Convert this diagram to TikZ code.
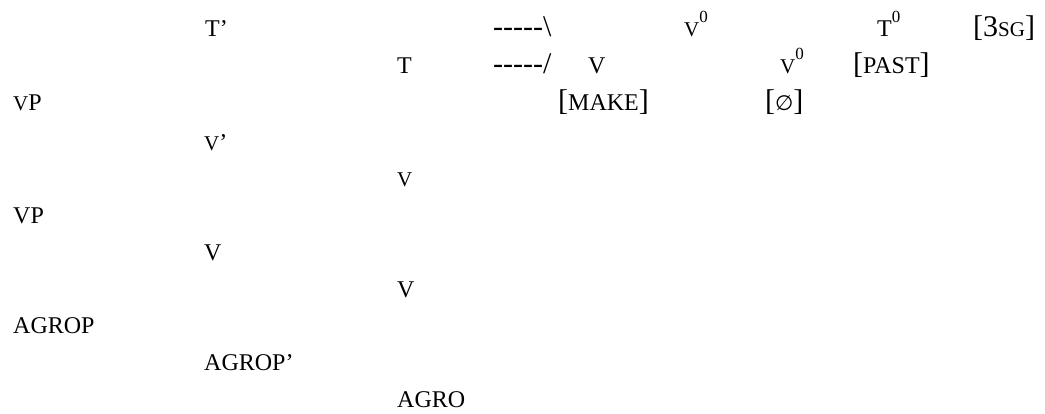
\documentclass[tikz,border=0pt]{standalone}
\usepackage{fontspec}
\setmainfont{Liberation Serif}
\newfontfamily\symfont{DejaVu Sans}
\tikzset{
  lbl/.style={anchor=base west,inner sep=0pt,font=\fontsize{24}{28.8}\selectfont},
}
\newcommand{\brk}[1]{{\fontsize{30}{36}\selectfont[}#1{\fontsize{30}{36}\selectfont]}}
\newcommand{\smc}[1]{{\fontsize{21}{25}\selectfont #1}}
\newcommand{\zero}{\raisebox{14pt}{\fontsize{17}{20}\selectfont 0}}
\begin{document}
\begin{tikzpicture}[x=1pt,y=-1pt]
\path[use as bounding box] (0,0) rectangle (1045.0,413.0);
% head rows
\node[lbl] (tbar) at (205,36) {T’};
\node[lbl] (tnode) at (397,73) {T};
\node[lbl,font=\fontsize{30}{36}\selectfont] (dashup) at (493,36) {-{}-{}-{}-{}-\textbackslash};
\node[lbl,font=\fontsize{30}{36}\selectfont] (dashdn) at (493,73) {-{}-{}-{}-{}-/};
\node[lbl] (vzeroa) at (684,36) {\smc{V}\zero};
\node[lbl] (tzero) at (877,36) {T\zero};
\node[lbl] (agr) at (973,36) {\brk{{\fontsize{30}{36}\selectfont 3}\smc{SG}}};
\node[lbl] (vroot) at (588,73) {V};
\node[lbl] (vzerob) at (780,73) {\smc{V}\zero};
\node[lbl] (past) at (853,73) {\brk{PAST}};
\node[lbl] (make) at (558,110) {\brk{MAKE}};
\node[lbl] (nullv) at (765,110) {\brk{{\symfont\fontsize{21}{25}\selectfont ∅}}};
% spine
\node[lbl] (vp) at (13,110) {\smc{V}P};
\node[lbl] (vbar) at (204,150) {\smc{V}’};
\node[lbl] (vhead) at (397,186) {\smc{V}};
\node[lbl] (bigvp) at (13,223) {VP};
\node[lbl] (bigvbar) at (204,260) {V};
\node[lbl] (bigv) at (397,297) {V};
\node[lbl] (agrop) at (13,333) {AGROP};
\node[lbl] (agrobar) at (204,370) {AGROP’};
\node[lbl] (agro) at (397,407) {AGRO};
\end{tikzpicture}
\end{document}
